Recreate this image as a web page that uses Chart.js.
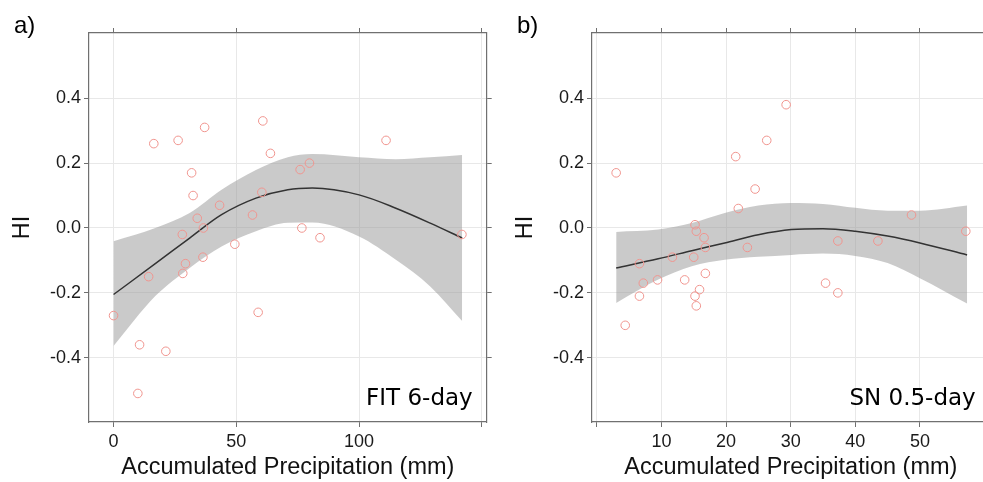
<!DOCTYPE html>
<html>
<head>
<meta charset="utf-8">
<script src="https://cdn.jsdelivr.net/npm/chart.js@4.4.0/dist/chart.umd.min.js"></script>
<style>
  html, body { margin: 0; padding: 0; background: #fff; overflow: hidden; }
  #wrap { position: relative; width: 983px; height: 482px; overflow: hidden; }
  .panel { position: absolute; top: 0; width: 492px; height: 482px; }
</style>
</head>
<body>
<div id="wrap">
  <div class="panel" style="left:0"><canvas id="chartA" width="492" height="482"></canvas></div>
  <div class="panel" style="left:503px"><canvas id="chartB" width="492" height="482"></canvas></div>
</div>
<script>
// a) FIT 6-day
var precipA = [16.4, 26.3, 37.1, 60.8, 111, 63.9, 76.0, 79.8, 31.8, 32.4, 43.2, 60.4, 56.6, 34.1, 28.0,
               36.6, 49.4, 76.7, 84.1, 141.9, 29.3, 28.2, 36.4, 14.3, 0, 58.9, 10.6, 21.3, 9.9];
var hiA = [0.26, 0.27, 0.31, 0.33, 0.27, 0.23, 0.18, 0.20, 0.17, 0.10, 0.07, 0.11, 0.04, 0.03, -0.02,
           0.00, -0.05, 0.00, -0.03, -0.02, -0.11, -0.14, -0.09, -0.15, -0.27, -0.26, -0.36, -0.38, -0.51];
var curveXA = [0, 17, 31, 44, 58, 71, 81, 100, 115, 129, 142];
var fitA = [-0.205, -0.11, -0.031, 0.041, 0.092, 0.118, 0.123, 0.102, 0.061, 0.015, -0.031];
var upperA = [-0.041, 0.0, 0.046, 0.118, 0.179, 0.218, 0.228, 0.218, 0.212, 0.218, 0.225];
var lowerA = [-0.364, -0.21, -0.123, -0.057, -0.01, 0.016, 0.017, -0.026, -0.098, -0.18, -0.287];
var xTicksA = [0, 50, 100, 150];

// b) SN 0.5-day
var precipB = [3.0, 29.3, 26.3, 21.5, 24.5, 21.9, 48.7, 57.1, 15.2, 15.4, 16.6, 37.3, 43.5, 16.8, 23.3,
               6.6, 11.7, 15.0, 16.8, 7.2, 9.4, 13.6, 6.6, 15.9, 15.2, 15.4, 4.4, 35.4, 37.3];
var hiB = [0.17, 0.38, 0.27, 0.22, 0.12, 0.06, 0.04, -0.01, 0.01, -0.01, -0.03, -0.04, -0.04, -0.06, -0.06,
           -0.11, -0.09, -0.09, -0.14, -0.17, -0.16, -0.16, -0.21, -0.19, -0.21, -0.24, -0.30, -0.17, -0.20];
var curveXB = [3, 9.5, 14.7, 19.8, 25, 30.1, 35, 40, 45, 50, 57.3];
var fitB = [-0.123, -0.095, -0.07, -0.046, -0.021, -0.005, -0.002, -0.01, -0.025, -0.046, -0.083];
var upperB = [-0.012, -0.005, 0.015, 0.046, 0.069, 0.077, 0.074, 0.062, 0.053, 0.053, 0.069];
var lowerB = [-0.231, -0.159, -0.118, -0.098, -0.089, -0.083, -0.079, -0.086, -0.108, -0.155, -0.233];
var xTicksB = [0, 10, 20, 30, 40, 50];

var yTicks = [-0.4, -0.2, 0, 0.2, 0.4];

var frameColor = "#707070";
var gridColor = "#e8e8e8";
var tickFont = { family: "Liberation Sans", size: 18 };
var titleFont = { family: "Liberation Sans", size: 23.5 };

function pairs(xs, ys) {
  return xs.map(function (x, i) { return { x: x, y: ys[i] }; });
}

var panelText = {
  id: "panelText",
  afterDraw: function (chart) {
    var o = chart.options.plugins.panelText;
    var ctx = chart.ctx, area = chart.chartArea;
    ctx.save();
    ctx.fillStyle = "#000";
    ctx.textBaseline = "alphabetic";
    ctx.font = '24px "Liberation Sans"';
    ctx.textAlign = "left";
    ctx.fillText(o.tag, 14, 33);
    ctx.font = '23px "DejaVu Sans"';
    ctx.textAlign = "right";
    ctx.fillText(o.label, area.right - 14, area.bottom - 17);
    ctx.restore();
  }
};

function makeChart(id, px, hi, cx, fit, up, lo, xTicks, xMin, xMax, hideLabel, tag, label) {
  var setTicks = function (list) {
    return function (s) { s.ticks = list.map(function (v) { return { value: v }; }); };
  };
  return new Chart(document.getElementById(id), {
    type: "line",
    data: {
      datasets: [
        {
          data: pairs(cx, up),
          borderColor: "transparent",
          borderWidth: 0,
          pointRadius: 0,
          fill: false,
          cubicInterpolationMode: "monotone",
          order: 3
        },
        {
          data: pairs(cx, lo),
          borderColor: "transparent",
          borderWidth: 0,
          pointRadius: 0,
          backgroundColor: "rgba(150,150,150,0.5)",
          fill: "-1",
          cubicInterpolationMode: "monotone",
          order: 3
        },
        {
          data: pairs(cx, fit),
          borderColor: "#333333",
          borderWidth: 1.5,
          pointRadius: 0,
          fill: false,
          cubicInterpolationMode: "monotone",
          order: 2
        },
        {
          data: pairs(px, hi),
          showLine: false,
          pointRadius: 4.3,
          pointBorderWidth: 1,
          pointBorderColor: "#f0948e",
          pointBackgroundColor: "rgba(0,0,0,0)",
          order: 1
        }
      ]
    },
    options: {
      responsive: false,
      animation: false,
      events: [],
      layout: { padding: { top: 28, right: 0, left: 0, bottom: 0 } },
      plugins: {
        legend: { display: false },
        tooltip: { enabled: false },
        panelText: { tag: tag, label: label }
      },
      scales: {
        x: {
          type: "linear",
          position: "bottom",
          min: xMin,
          max: xMax,
          afterBuildTicks: setTicks(xTicks),
          afterFit: function (s) { s.height = 60; },
          ticks: {
            font: tickFont,
            color: "#1a1a1a",
            padding: 4,
            maxRotation: 0,
            callback: function (v) { return v === hideLabel ? "" : String(v); }
          },
          grid: { color: gridColor, tickColor: frameColor, tickLength: 5 },
          border: { color: frameColor, width: 1.2 },
          title: {
            display: true,
            text: "Accumulated Precipitation (mm)",
            font: titleFont,
            color: "#111",
            padding: { top: 0, bottom: 0 }
          }
        },
        x2: {
          type: "linear",
          position: "top",
          min: xMin,
          max: xMax,
          afterBuildTicks: setTicks(xTicks),
          afterFit: function (s) { s.height = 5; },
          ticks: { display: false },
          grid: { drawOnChartArea: false, tickColor: frameColor, tickLength: 5 },
          border: { color: frameColor, width: 1.2 }
        },
        y: {
          type: "linear",
          position: "left",
          min: -0.598,
          max: 0.601,
          afterBuildTicks: setTicks(yTicks),
          afterFit: function (s) { s.width = 89; },
          ticks: {
            font: tickFont,
            color: "#1a1a1a",
            padding: 3,
            callback: function (v) { return v.toFixed(1); }
          },
          grid: { color: gridColor, tickColor: frameColor, tickLength: 5 },
          border: { color: frameColor, width: 1.2 },
          title: {
            display: true,
            text: "HI",
            font: titleFont,
            color: "#111",
            padding: { top: 8, bottom: 0 }
          }
        },
        y2: {
          type: "linear",
          position: "right",
          min: -0.598,
          max: 0.601,
          afterBuildTicks: setTicks(yTicks),
          afterFit: function (s) { s.width = 5; },
          ticks: { display: false },
          grid: { drawOnChartArea: false, tickColor: frameColor, tickLength: 5 },
          border: { color: frameColor, width: 1.2 }
        }
      }
    },
    plugins: [panelText]
  });
}

makeChart("chartA", precipA, hiA, curveXA, fitA, upperA, lowerA, xTicksA, -10, 152, 150, "a)", "FIT 6-day");
makeChart("chartB", precipB, hiB, curveXB, fitB, upperB, lowerB, xTicksB, -0.74, 60.8, 0, "b)", "SN 0.5-day");
</script>
</body>
</html>
